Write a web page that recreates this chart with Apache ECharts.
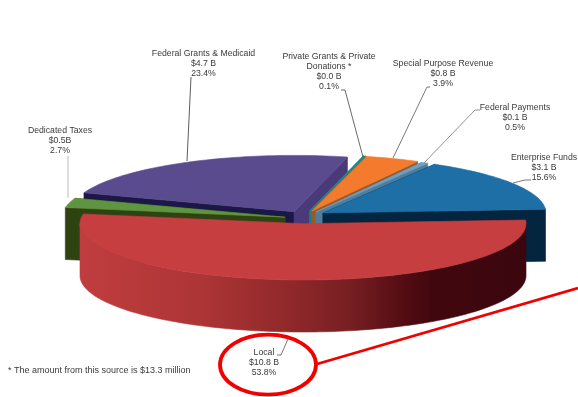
<!DOCTYPE html>
<html>
<head>
<meta charset="utf-8">
<style>html,body{margin:0;padding:0;background:#fff}#chart{width:578px;height:397px}</style>
<script src="https://cdn.jsdelivr.net/npm/echarts@6/dist/echarts.min.js"></script>
</head>
<body>
<div id="chart"></div>
<script>
// Revenue sources, clockwise from the left edge of the large front slice.
const categories = ['Dedicated Taxes', 'Federal Grants & Medicaid', 'Private Grants & Private\nDonations *', 'Special Purpose Revenue', 'Federal Payments', 'Enterprise Funds', 'Local'];
const amounts = ['$0.5B', '$4.7 B', '$0.0 B', '$0.8 B', '$0.1 B', '$3.1 B', '$10.8 B'];
const shares = [2.7, 23.4, 0.1, 3.9, 0.5, 15.6, 53.8];
const footnote = '* The amount from this source is $13.3 million';

// Projection of the tilted disc.
const pie = { cx: 303, cy: 223.7, rx: 223, ry: 56.3, depth: 52, firstAngle: 189.9 };

// Per-slice look: explosion offset from the disc centre and face colours.
const looks = [
  { dx: -18, dy: -6.5, z: 6, top: '#5f9440', start: '#2f4312', end: '#2f4312' },
  { dx: -9, dy: -12, z: 1, top: '#5a4a8e', start: '#1c1846', end: '#4b3a79' },
  { dx: 7, dy: -12.5, z: 2, top: '#1b8a8a', start: '#1b7f80', end: '#1b7f80', lw: 1.4 },
  { dx: 9, dy: -12.7, z: 3, top: '#f47a2e', start: '#9a5a25', end: '#9a5a25' },
  { dx: 13, dy: -11.7, z: 4, top: '#6d9fc4', start: '#4f7d9b', end: '#4f7d9b' },
  { dx: 20, dy: -10.7, z: 5, top: '#1d6fa5', start: '#03253f', end: '#03253f' },
  { dx: 0, dy: 0, z: 7, top: '#c63e3f' }
];

// Label blocks: centre of the text and the leader polyline running to the slice.
const labelBoxes = [
  { x: 60, y: 141, leader: [[68, 156], [68, 198]], color: '#aaaaaa' },
  { x: 203.5, y: 64, leader: [[191, 77], [187, 161]], color: '#333333' },
  { x: 329, y: 72, leader: [[341, 90], [345, 90], [363, 157]], color: '#444444' },
  { x: 443, y: 74, leader: [[430, 87], [427, 87], [393, 158]], color: '#555555' },
  { x: 515, y: 117.5, leader: [[480, 110], [475, 110], [424, 163]], color: '#777777' },
  { x: 544, y: 168, leader: [[531, 180], [525, 180], [513, 183]], color: '#555555' },
  { x: 264, y: 362.5, leader: [[277, 355], [281, 355], [288, 339]], color: '#555555' }
];

const TEXT_FONT = '8.7px "Liberation Sans", Arial, sans-serif';
const RAD = Math.PI / 180;

// Cumulative start angle of every slice, in degrees.
const startAngles = [];
shares.reduce(function (acc, s, i) { startAngles[i] = acc; return acc + s * 3.6; }, pie.firstAngle);

function rim(look, deg) {
  return [pie.cx + look.dx + pie.rx * Math.cos(deg * RAD), pie.cy + look.dy + pie.ry * Math.sin(deg * RAD)];
}
function lower(p) { return [p[0], p[1] + pie.depth]; }
function arcPoints(look, from, to) {
  const pts = [];
  const steps = Math.max(2, Math.ceil((to - from) / 1.5));
  for (let k = 0; k <= steps; k++) pts.push(rim(look, from + (to - from) * k / steps));
  return pts;
}

const frontWallGradient = new echarts.graphic.LinearGradient(80, 0, 530, 0, [
  { offset: 0, color: '#c03d3e' },
  { offset: 0.27, color: '#ad3536' },
  { offset: 0.47, color: '#8f282a' },
  { offset: 0.6, color: '#771f22' },
  { offset: 0.71, color: '#560e13' },
  { offset: 0.78, color: '#42070e' },
  { offset: 1, color: '#3a060e' }
], true);

function renderSlice(params, api) {
  const i = params.dataIndex;
  const look = looks[i];
  const from = startAngles[i];
  const to = from + api.value(0) * 3.6;
  const apex = [pie.cx + look.dx, pie.cy + look.dy];
  const arc = arcPoints(look, from, to);
  const first = arc[0], last = arc[arc.length - 1];
  const lw = look.lw || 0.6;
  const face = function (points, fill, z) {
    return { type: 'polygon', z2: look.z * 10 + z, shape: { points: points }, style: { fill: fill, stroke: fill, lineWidth: lw } };
  };
  const children = [];
  // Only the near half of the rim (360 to 540 degrees here) shows a curved wall.
  const wallFrom = Math.max(from, 360), wallTo = Math.min(to, 540);
  if (wallFrom < wallTo) {
    const wall = arcPoints(look, wallFrom, wallTo);
    children.push(face(wall.concat(wall.slice().reverse().map(lower)), frontWallGradient, 0));
  }
  // The large front slice spans more than half the disc, so its radial walls stay hidden.
  if (look.start) children.push(face([apex, first, lower(first), lower(apex)], look.start, 1));
  if (look.end) children.push(face([apex, last, lower(last), lower(apex)], look.end, 2));
  children.push(face([apex].concat(arc), look.top, 3));
  return { type: 'group', children: children };
}

const labelGraphics = [];
categories.forEach(function (name, i) {
  const box = labelBoxes[i];
  labelGraphics.push({
    type: 'polyline', z: 10, silent: true,
    shape: { points: box.leader },
    style: { stroke: box.color, lineWidth: 0.8, fill: null }
  });
  labelGraphics.push({
    type: 'text', z: 11, silent: true, x: box.x, y: box.y,
    style: {
      text: name + '\n' + amounts[i] + '\n' + shares[i].toFixed(1) + '%',
      font: TEXT_FONT, fill: '#3a3a3a', lineHeight: 10,
      align: 'center', verticalAlign: 'middle'
    }
  });
});

const chart = echarts.init(document.getElementById('chart'), null, { renderer: 'canvas' });
chart.setOption({
  animation: false,
  backgroundColor: '#ffffff',
  series: [{
    type: 'custom',
    coordinateSystem: 'none',
    silent: true,
    renderItem: renderSlice,
    data: shares.map(function (s) { return [s]; })
  }],
  graphic: { elements: labelGraphics.concat([
    {
      type: 'text', z: 11, silent: true, x: 8, y: 371,
      style: { text: footnote, font: '9px "Liberation Sans", Arial, sans-serif', fill: '#3a3a3a', align: 'left', verticalAlign: 'middle' }
    },
    // Red call-out around the largest slice's label.
    {
      type: 'ellipse', z: 12, silent: true,
      shape: { cx: 268, cy: 364.7, rx: 48, ry: 30 },
      style: { fill: null, stroke: '#f00000', lineWidth: 3.8 }
    },
    {
      type: 'line', z: 12, silent: true,
      shape: { x1: 317, y1: 364, x2: 578, y2: 288 },
      style: { stroke: '#f00000', lineWidth: 2.8 }
    }
  ]) }
});
</script>
</body>
</html>
